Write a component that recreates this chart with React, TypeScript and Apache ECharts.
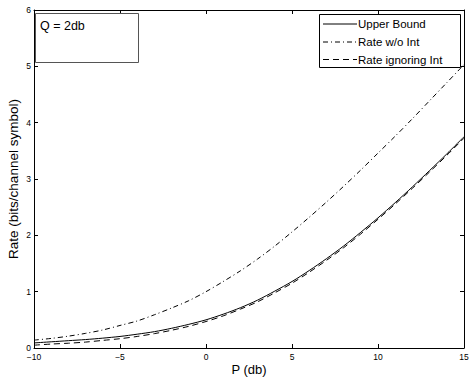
import React, { useEffect, useRef } from "react";
import * as echarts from "echarts";

const pDb = [-10, -9, -8, -7, -6, -5, -4, -3, -2, -1, 0, 1, 2, 3, 4, 5, 6, 7, 8, 9, 10, 11, 12, 13, 14, 15];
const upperBound = [0.09, 0.11, 0.13, 0.15, 0.175, 0.205, 0.245, 0.29, 0.35, 0.42, 0.5, 0.6, 0.715, 0.85, 1.01, 1.18, 1.375, 1.585, 1.81, 2.055, 2.31, 2.58, 2.86, 3.15, 3.445, 3.75];
const rateWithoutInt = [0.14, 0.17, 0.21, 0.26, 0.32, 0.4, 0.48, 0.59, 0.71, 0.84, 1.0, 1.18, 1.37, 1.58, 1.81, 2.06, 2.32, 2.59, 2.87, 3.16, 3.46, 3.76, 4.07, 4.39, 4.71, 5.03];
const rateIgnoringInt = [0.05, 0.07, 0.085, 0.105, 0.135, 0.165, 0.205, 0.255, 0.315, 0.385, 0.47, 0.57, 0.69, 0.82, 0.98, 1.15, 1.345, 1.555, 1.78, 2.025, 2.285, 2.555, 2.835, 3.125, 3.42, 3.725];
const seriesNames = ["Upper Bound", "Rate w/o Int", "Rate ignoring Int"];
const annotation = "Q = 2db";
const xName = "P (db)";
const yName = "Rate (bits/channel symbol)";

const FONT = "'Liberation Sans', Arial, Helvetica, sans-serif";
const DASHES: (number[] | null)[] = [null, [5, 3, 1, 3], [6, 4]];

export default function App() {
  const ref = useRef<HTMLDivElement>(null);
  useEffect(() => {
    if (!ref.current) return;
    const chart = echarts.init(ref.current, null, { renderer: "svg" });
    const pairs = (ys: number[]) => pDb.map((x, i) => [x, ys[i]]);
    const axisCommon = {
      type: "value" as const,
      axisLine: { show: true, onZero: false, lineStyle: { color: "#000", width: 1 } },
      axisTick: { show: true, inside: true, length: 4, lineStyle: { color: "#000" } },
      splitLine: { show: false },
    };
    const xCommon = { ...axisCommon, min: -10, max: 15, interval: 5 };
    const yCommon = { ...axisCommon, min: 0, max: 6, interval: 1 };
    const fmt = (v: number) => String(v).replace("-", "\u2212");

    const legendRows = [24, 42, 59.5];
    const legendGraphics: any[] = [
      {
        type: "rect",
        shape: { x: 319.5, y: 14.5, width: 141, height: 53 },
        style: { fill: "#fff", stroke: "#000", lineWidth: 1 },
        z: 100,
      },
    ];
    seriesNames.forEach((name, i) => {
      legendGraphics.push({
        type: "line",
        shape: { x1: 323, y1: legendRows[i], x2: 357, y2: legendRows[i] },
        style: { stroke: "#000", lineWidth: 1, lineDash: DASHES[i] || undefined },
        z: 101,
      });
      legendGraphics.push({
        type: "text",
        x: 358,
        y: legendRows[i],
        style: { text: name, fontSize: 11.5, fill: "#000", fontFamily: FONT, verticalAlign: "middle" },
        z: 101,
      });
    });

    chart.setOption({
      animation: false,
      backgroundColor: "#fff",
      textStyle: { fontFamily: FONT, color: "#000" },
      grid: { left: 34, right: 5, top: 10, bottom: 30, containLabel: false, outerBoundsMode: "none" },
      xAxis: [
        {
          ...xCommon,
          position: "bottom",
          name: xName,
          nameLocation: "middle",
          nameGap: 15,
          nameMoveOverlap: false,
          nameTextStyle: { fontSize: 13, color: "#000", fontFamily: FONT },
          axisLabel: { fontSize: 8.5, color: "#000", margin: 4, formatter: fmt, fontFamily: FONT },
        },
        { ...xCommon, position: "top", axisLabel: { show: false } },
      ],
      yAxis: [
        {
          ...yCommon,
          position: "left",
          name: yName,
          nameLocation: "middle",
          nameRotate: 90,
          nameGap: 14,
          nameMoveOverlap: false,
          nameTextStyle: { fontSize: 13.5, color: "#000", fontFamily: FONT },
          axisLabel: { fontSize: 8.5, color: "#000", margin: 3, formatter: fmt, fontFamily: FONT },
        },
        { ...yCommon, position: "right", axisLabel: { show: false } },
      ],
      graphic: [
        {
          type: "rect",
          shape: { x: 35.5, y: 13.5, width: 103, height: 49 },
          style: { fill: "#fff", stroke: "#555", lineWidth: 1 },
          z: 100,
        },
        {
          type: "text",
          x: 40,
          y: 26,
          style: { text: annotation, fontSize: 12.5, fill: "#000", fontFamily: FONT, verticalAlign: "middle" },
          z: 101,
        },
        ...legendGraphics,
      ],
      series: [upperBound, rateWithoutInt, rateIgnoringInt].map((ys, i) => ({
        name: seriesNames[i],
        type: "line",
        data: pairs(ys),
        symbol: "none",
        smooth: 0.3,
        lineStyle: { color: "#000", width: 1, type: DASHES[i] || "solid" },
      })),
    });
    return () => chart.dispose();
  }, []);
  return <div ref={ref} style={{ position: "fixed", left: 0, top: 0, width: 469, height: 378 }} />;
}
